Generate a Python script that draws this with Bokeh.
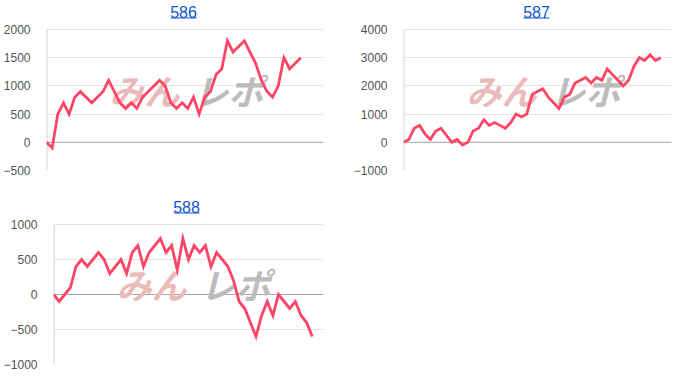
from bokeh.plotting import figure
from bokeh.layouts import column, row
from bokeh.models import Range1d, FixedTicker, Span, Label, BoxAnnotation
from bokeh.embed import file_html
from bokeh.resources import INLINE

# ---- data ----
titles = ["586", "587", "588"]

values_586 = [0, -100, 500, 700, 500, 800, 900, 800, 700, 800, 900, 1100, 900, 700, 600,
              700, 600, 800, 900, 1000, 1100, 1000, 700, 600, 700, 600, 800, 500, 800, 900,
              1200, 1300, 1800, 1600, 1700, 1800, 1600, 1400, 1100, 900, 800, 1000, 1500,
              1300, 1400, 1500]
values_587 = [0, 100, 500, 600, 300, 100, 400, 500, 250, 0, 100, -100, 0, 400, 500, 800,
              600, 700, 600, 500, 700, 1000, 900, 1000, 1700, 1800, 1900, 1600, 1400, 1200,
              1600, 1700, 2100, 2200, 2300, 2100, 2300, 2200, 2600, 2400, 2200, 2000, 2200,
              2700, 3000, 2900, 3100, 2900, 3000]
values_588 = [0, -100, 0, 100, 400, 500, 400, 500, 600, 500, 300, 400, 500, 300, 600, 700,
              400, 600, 700, 800, 600, 700, 350, 800, 500, 700, 600, 700, 400, 600, 500, 400,
              200, -100, -200, -400, -600, -300, -100, -300, 0, -100, -200, -100, -300, -400,
              -600]

yticks_586 = [-500, 0, 500, 1000, 1500, 2000]
yticks_587 = [-1000, 0, 1000, 2000, 3000, 4000]
yticks_588 = [-1000, -500, 0, 500, 1000]

x_end = [49, 50, 48]

LINE = "#ff4565"
LINK = "#1155cc"
FONT = "Liberation Sans"


def make_chart(title, values, yticks, xend, w, h, bl, br, grid_h, top_gap, bb,
               tx, ty, ux0, ux1, uy):
    # frame reaches the top of the figure so the title can sit inside it;
    # the y range is widened so the tick span keeps its pixel height grid_h
    span = yticks[-1] - yticks[0]
    y_top = yticks[-1] + top_gap * span / grid_h
    p = figure(width=w, height=h, output_backend="svg", toolbar_location=None,
               x_axis_location=None, min_border_left=bl, min_border_right=br,
               min_border_top=0, min_border_bottom=bb,
               x_range=Range1d(0, xend), y_range=Range1d(yticks[0], y_top))
    p.outline_line_color = None
    p.background_fill_color = "white"
    p.border_fill_color = "white"
    p.xgrid.visible = False
    p.ygrid.grid_line_color = "#e3e3e3"
    p.ygrid.grid_line_width = 1
    ax = p.yaxis[0]
    ax.ticker = FixedTicker(ticks=yticks)
    ax.major_tick_line_color = None
    ax.minor_tick_line_color = None
    ax.axis_line_color = None
    ax.major_label_text_font = FONT
    ax.major_label_text_font_size = "12px"
    ax.major_label_text_color = "#555555"
    ax.major_label_standoff = 10

    # left baseline of the chart area
    p.segment(x0=[0], y0=[yticks[0]], x1=[0], y1=[yticks[-1]],
              line_color="#dcdcdc", line_width=2.5, level="underlay")
    p.add_layout(Span(location=0, dimension="width", line_color="#a8a8a8",
                      line_width=1, level="underlay"))

    # watermark
    p.add_layout(Label(x=63, y=56, x_units="screen", y_units="screen", text="みん",
                       text_font="Noto Sans CJK JP", text_font_style="bold italic",
                       text_font_size="35px", text_color="#ebbaba", level="underlay"))
    p.add_layout(Label(x=147, y=56, x_units="screen", y_units="screen", text="レポ",
                       text_font="Noto Sans CJK JP", text_font_style="bold italic",
                       text_font_size="35px", text_color="#bcbcbc", level="underlay"))

    xs = list(range(len(values)))
    p.line(xs, values, line_color=LINE, line_width=2.8, line_join="miter")

    # title (link style)
    p.add_layout(Label(x=tx, y=ty, x_units="screen", y_units="screen", text=title,
                       text_font=FONT, text_font_size="16px", text_color=LINK,
                       text_align="center", text_baseline="alphabetic"))
    p.add_layout(BoxAnnotation(left=ux0, right=ux1, bottom=uy - 1, top=uy,
                               left_units="screen", right_units="screen",
                               bottom_units="screen", top_units="screen",
                               fill_color=LINK, fill_alpha=1, line_color=None,
                               line_alpha=0))
    return p


p1 = make_chart(titles[0], values_586, yticks_586, x_end[0], 350, 194, 42, 27, 141, 29, 24,
                137, 159, 124, 150, 153)
p2 = make_chart(titles[1], values_587, yticks_587, x_end[1], 350, 194, 43, 29, 141, 29, 24,
                133, 159, 120, 146, 153)
p3 = make_chart(titles[2], values_588, yticks_588, x_end[2], 350, 194, 46, 27, 140, 30, 24,
                133, 158, 120, 146, 152)

p = column(row(p1, p2), row(p3))

open("out.html", "w").write(file_html(p, INLINE))
